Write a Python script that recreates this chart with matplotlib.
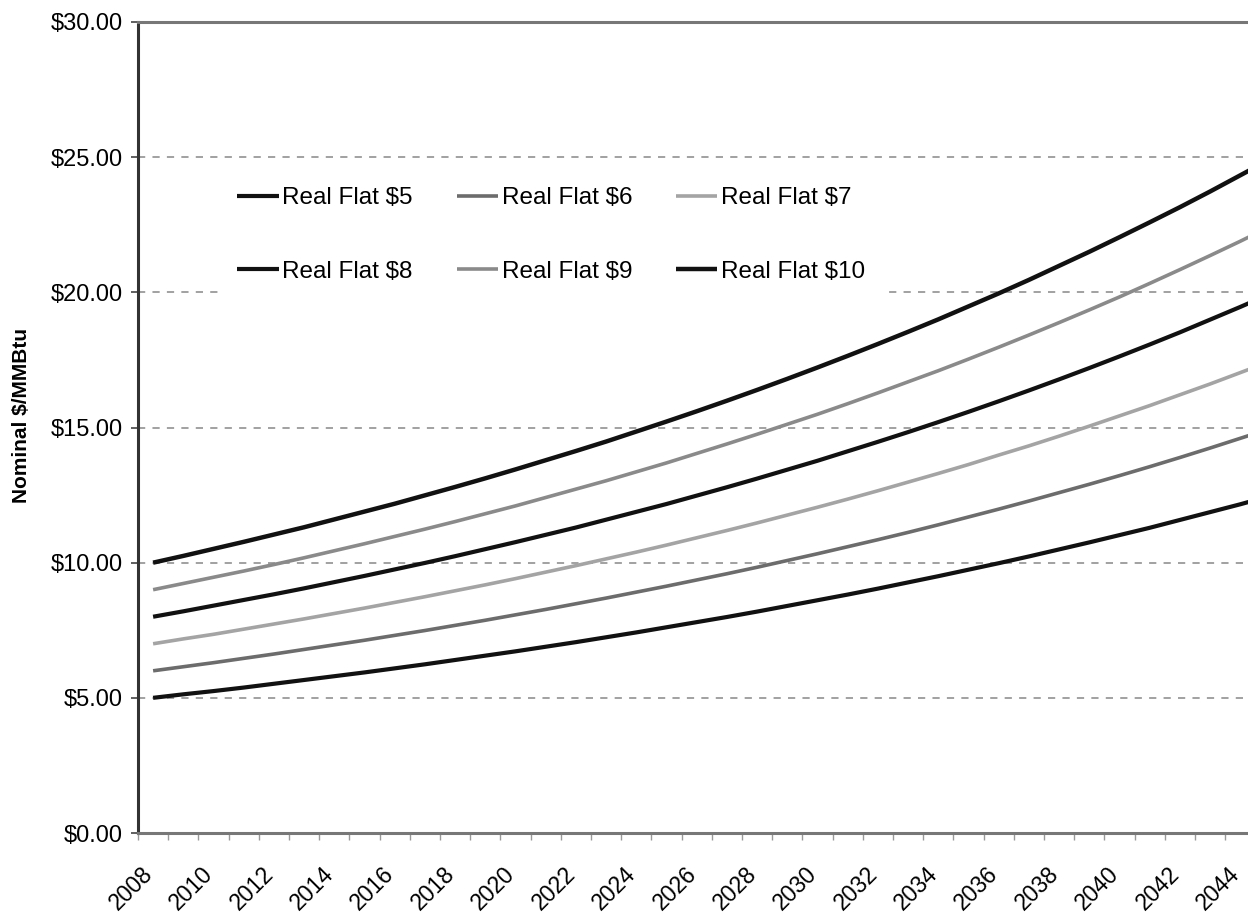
import matplotlib
matplotlib.use("Agg")
import matplotlib.pyplot as plt
from matplotlib.transforms import ScaledTranslation

plt.rcParams['font.family'] = ['Liberation Sans', 'DejaVu Sans']

# Years shown on the category axis
years = list(range(2008, 2046))

# Nominal prices ($/MMBtu) for each real flat price case
flat_5 = [5.00, 5.13, 5.25, 5.38, 5.52, 5.66, 5.80, 5.94, 6.09, 6.24,
          6.40, 6.56, 6.72, 6.89, 7.06, 7.24, 7.42, 7.61, 7.80, 7.99,
          8.19, 8.40, 8.61, 8.82, 9.04, 9.27, 9.50, 9.74, 9.98, 10.23,
          10.49, 10.75, 11.02, 11.29, 11.58, 11.87, 12.16, 12.47]
flat_6 = [6.00, 6.15, 6.30, 6.46, 6.62, 6.79, 6.96, 7.13, 7.31, 7.49,
          7.68, 7.87, 8.07, 8.27, 8.48, 8.69, 8.91, 9.13, 9.36, 9.59,
          9.83, 10.08, 10.33, 10.59, 10.85, 11.12, 11.40, 11.69, 11.98, 12.28,
          12.59, 12.90, 13.22, 13.55, 13.89, 14.24, 14.60, 14.96]
flat_7 = [7.00, 7.18, 7.35, 7.54, 7.73, 7.92, 8.12, 8.32, 8.53, 8.74,
          8.96, 9.18, 9.41, 9.65, 9.89, 10.14, 10.39, 10.65, 10.92, 11.19,
          11.47, 11.76, 12.05, 12.35, 12.66, 12.98, 13.30, 13.63, 13.98, 14.32,
          14.68, 15.05, 15.43, 15.81, 16.21, 16.61, 17.03, 17.45]
flat_8 = [8.00, 8.20, 8.41, 8.62, 8.83, 9.05, 9.28, 9.51, 9.75, 9.99,
          10.24, 10.50, 10.76, 11.03, 11.30, 11.59, 11.88, 12.17, 12.48, 12.79,
          13.11, 13.44, 13.77, 14.12, 14.47, 14.83, 15.20, 15.58, 15.97, 16.37,
          16.78, 17.20, 17.63, 18.07, 18.52, 18.99, 19.46, 19.95]
flat_9 = [9.00, 9.23, 9.46, 9.69, 9.93, 10.18, 10.44, 10.70, 10.97, 11.24,
          11.52, 11.81, 12.10, 12.41, 12.72, 13.03, 13.36, 13.69, 14.04, 14.39,
          14.75, 15.12, 15.49, 15.88, 16.28, 16.69, 17.10, 17.53, 17.97, 18.42,
          18.88, 19.35, 19.83, 20.33, 20.84, 21.36, 21.89, 22.44]
flat_10 = [10.00, 10.25, 10.51, 10.77, 11.04, 11.31, 11.60, 11.89, 12.18, 12.49,
           12.80, 13.12, 13.45, 13.79, 14.13, 14.48, 14.85, 15.22, 15.60, 15.99,
           16.39, 16.80, 17.22, 17.65, 18.09, 18.54, 19.00, 19.48, 19.96, 20.46,
           20.98, 21.50, 22.04, 22.59, 23.15, 23.73, 24.33, 24.93]

series_names = ["Real Flat $5", "Real Flat $6", "Real Flat $7",
                "Real Flat $8", "Real Flat $9", "Real Flat $10"]
series_values = [flat_5, flat_6, flat_7, flat_8, flat_9, flat_10]

y_ticks = [0, 5, 10, 15, 20, 25, 30]
y_tick_labels = ["$0.00", "$5.00", "$10.00", "$15.00", "$20.00", "$25.00", "$30.00"]

colors = ["#111111", "#6c6c6c", "#a4a4a4", "#111111", "#8a8a8a", "#111111"]
widths = [3.0, 2.6, 2.6, 3.0, 2.6, 3.2]

W, H = 1248, 917
fig = plt.figure(figsize=(W / 100, H / 100), dpi=100)
fig.patch.set_facecolor("white")
left, right, top, bottom = 138, 1248, 22, 833
ax = fig.add_axes([left / W, 1 - bottom / H, (right - left) / W, (bottom - top) / H])

x = list(range(len(years)))
handles = []
for vals, name, c, lw in zip(series_values, series_names, colors, widths):
    h, = ax.plot(x, vals, color=c, lw=lw, solid_capstyle="butt", label=name, zorder=3)
    handles.append(h)

ax.set_yticks(y_ticks)
ax.set_yticklabels(y_tick_labels, fontsize=17)
ax.tick_params(axis="y", direction="out", length=5, width=1.2, color="#444444", pad=6)

# Tick marks at category boundaries, labels on every other year
ax.set_xticks([i - 0.5 for i in range(len(years) + 1)])
ax.set_xticklabels([])
ax.tick_params(axis="x", which="major", direction="out", length=5, width=1.0, color="#999999")
label_pos = [i for i in x if years[i] % 2 == 0]
ax.set_xticks(label_pos, minor=True)
ax.set_xticklabels([str(years[i]) for i in label_pos], minor=True, fontsize=16.5,
                   rotation=45, ha="right", va="center", rotation_mode="anchor")
ax.tick_params(axis="x", which="minor", length=0, pad=27)
offset = ScaledTranslation(-4 / 100, 0, fig.dpi_scale_trans)
for lab in ax.get_xticklabels(minor=True):
    lab.set_transform(lab.get_transform() + offset)

# Category axis: one slot per year, cropped on the right
slot_px = 30.2
ax.set_xlim(-0.5, -0.5 + (right - left) / slot_px)
ax.set_ylim(0, 30)

# Dashed horizontal gridlines
for v in y_ticks[1:-1]:
    ax.axhline(v, color="#9a9a9a", lw=1.3, ls=(0, (4, 4)), zorder=1)

ax.spines["right"].set_visible(False)
ax.spines["left"].set_color("#333333")
ax.spines["left"].set_linewidth(2.2)
ax.spines["bottom"].set_color("#777777")
ax.spines["bottom"].set_linewidth(2.2)
ax.spines["top"].set_color("#777777")
ax.spines["top"].set_linewidth(2.2)

fig.text(22 / W, 1 - 415 / H, "Nominal $/MMBtu", rotation=90, fontsize=15,
         fontweight="bold", ha="center", va="center")

# Legend laid out in two rows of three
order = [0, 3, 1, 4, 2, 5]
leg = ax.legend([handles[i] for i in order], [series_names[i] for i in order],
                ncol=3, loc="upper left", bbox_to_anchor=(218 / W, 1 - 168 / H),
                bbox_transform=fig.transFigure, fontsize=17.5, frameon=True,
                fancybox=False, handlelength=1.7, handletextpad=0.15,
                columnspacing=1.8, labelspacing=2.1, borderpad=0.8,
                borderaxespad=0)
leg.get_frame().set_facecolor("white")
leg.get_frame().set_edgecolor("none")
leg.get_frame().set_alpha(1)
leg.set_zorder(5)

fig.savefig("out.png", dpi=100, facecolor="white")
